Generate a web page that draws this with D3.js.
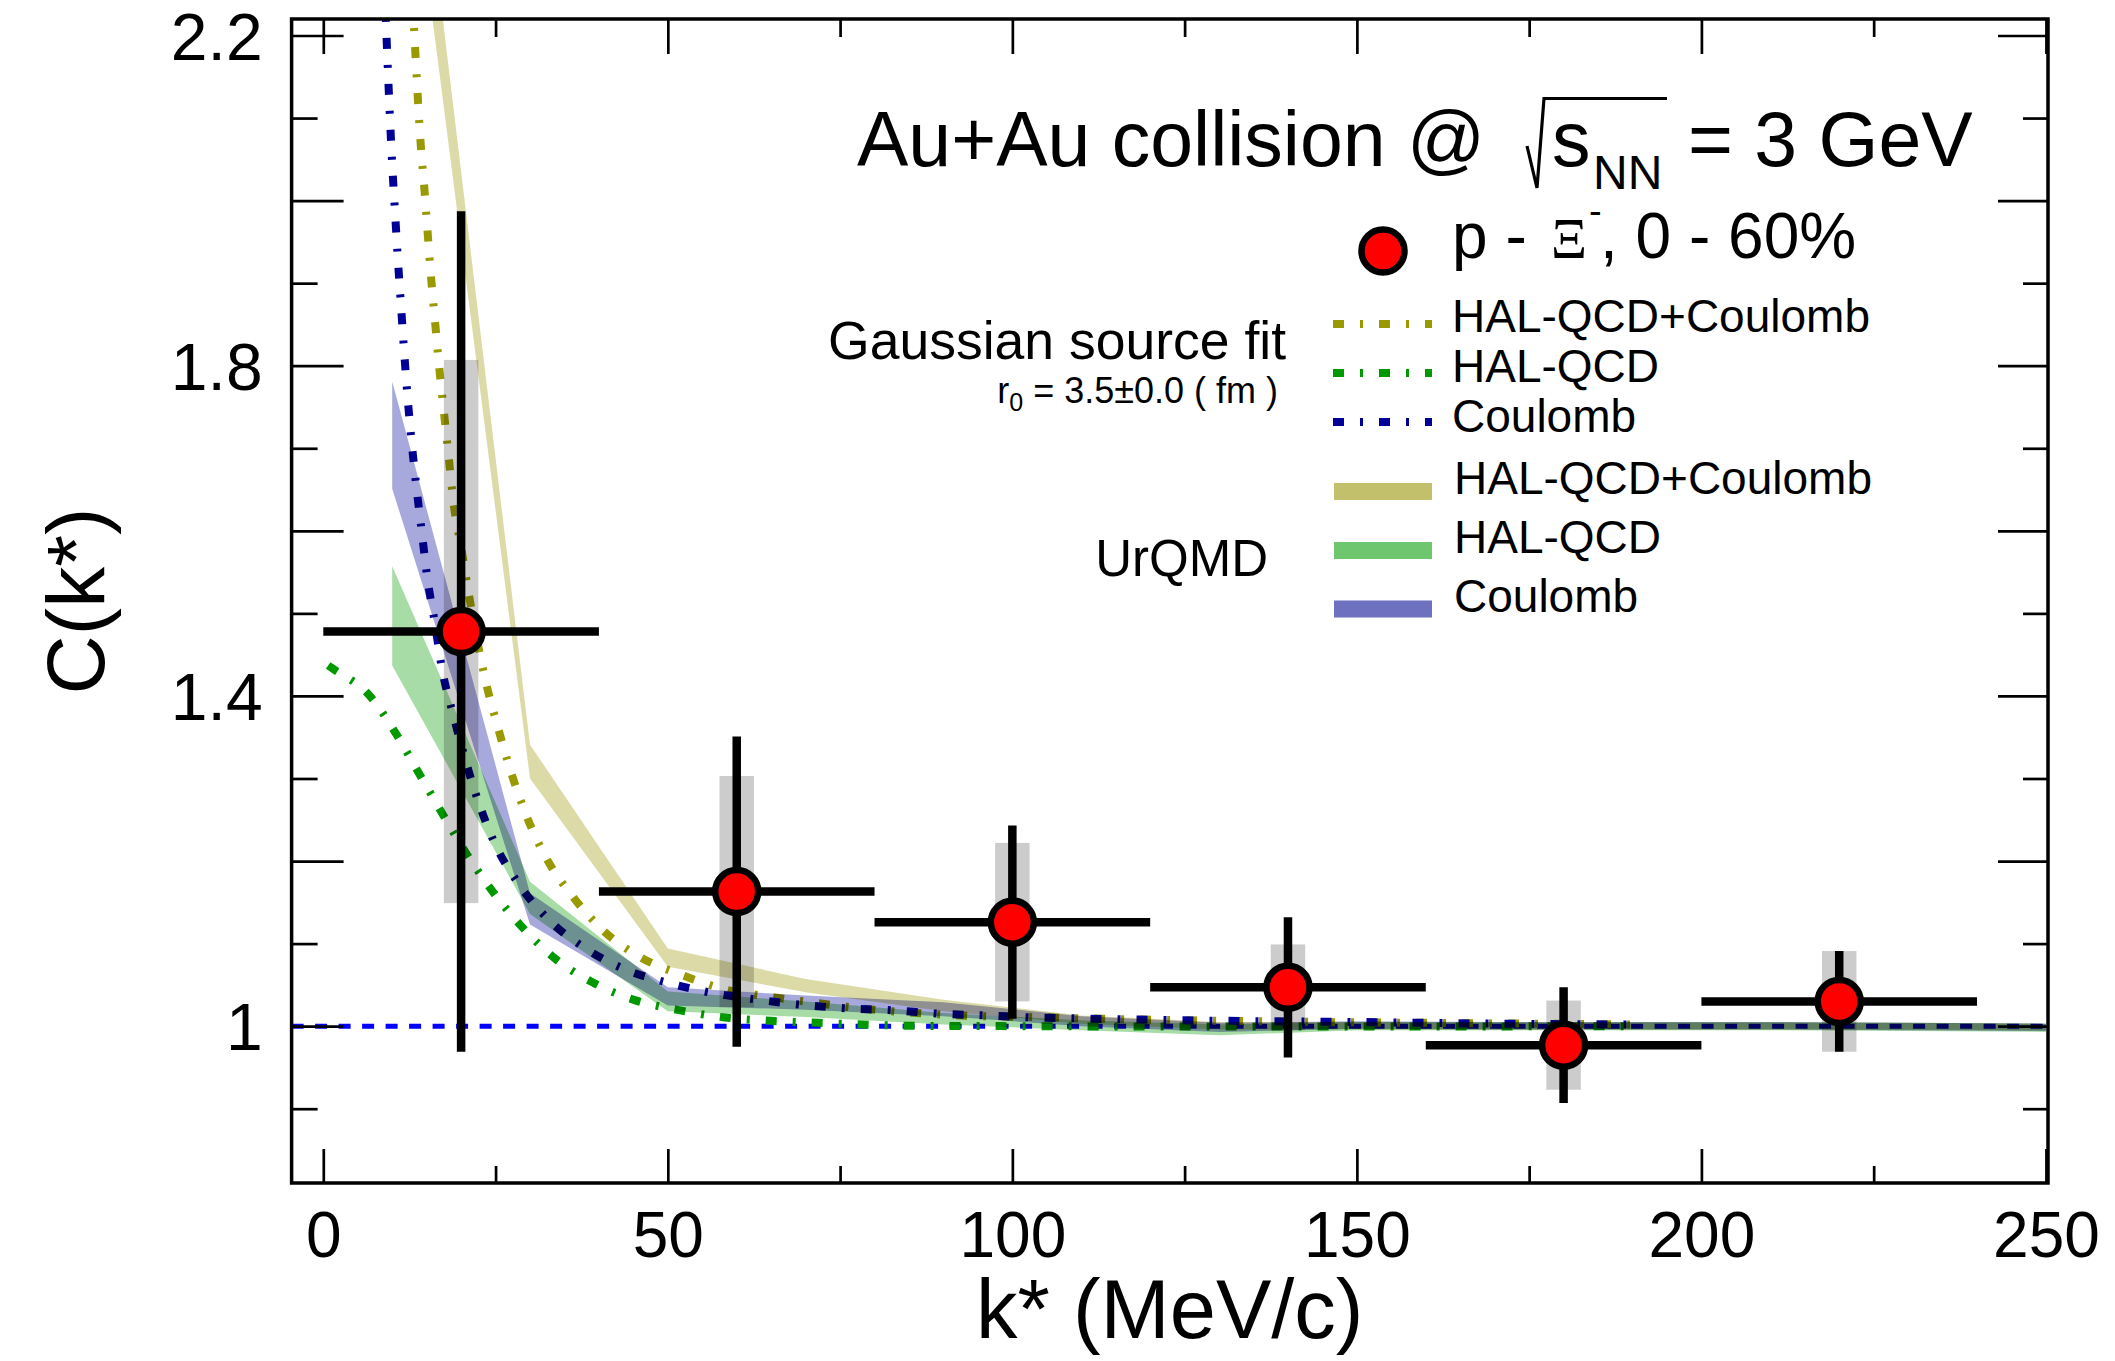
<!DOCTYPE html>
<html>
<head>
<meta charset="utf-8">
<script src="https://cdn.jsdelivr.net/npm/d3@7"></script>
<style>
  html, body { margin: 0; padding: 0; background: #fff; }
  svg { display: block; font-family: 'Liberation Sans', Arial, Helvetica, sans-serif; }
</style>
</head>
<body>
<svg id="chart"></svg>
<script>
// ---- data ----
const kBins = [20, 60, 100, 140, 180, 220];
const kHalfWidth = 20;
const cData = [1.478, 1.163, 1.126, 1.047, 0.977, 1.030];
const statErr = [0.509, 0.188, 0.117, 0.085, 0.070, 0.061];
const sysErr = [0.329, 0.140, 0.096, 0.052, 0.054, 0.061];
const sysHalfWidth = 2.5;

// Gaussian source fit curves (k*, C)
const fitHalCoulK = [11.3, 12.2, 13.1, 14.3, 14.6, 15.1, 15.6, 16.2, 16.8, 17.5, 18.2, 18.9, 20.05, 21.1, 23.7, 25.4, 27.3, 29.5, 32.4, 36.2, 40.6, 45.9, 52.0, 58.3, 65.0, 71.6, 78.1, 91.7, 105, 118.2, 131.6, 144.9, 160, 175, 190];
const fitHalCoulC = [2.52, 2.37, 2.22, 2.05, 2.022, 1.966, 1.911, 1.855, 1.80, 1.744, 1.689, 1.634, 1.578, 1.524, 1.413, 1.36, 1.306, 1.2545, 1.203, 1.157, 1.116, 1.084, 1.062, 1.0445, 1.0355, 1.028, 1.0214, 1.0133, 1.0105, 1.008, 1.0064, 1.005, 1.004, 1.003, 1.002];
const fitHalK = [0.7, 1.2, 6.65, 10.5, 13.9, 17.2, 20.7, 24.4, 28.6, 33.6, 39.2, 45.2, 51.6, 58.3, 65.0, 71.8, 78.3, 85.1, 100, 120, 150, 190];
const fitHalC = [1.437, 1.434, 1.401, 1.355, 1.306, 1.2586, 1.21, 1.165, 1.1224, 1.082, 1.0525, 1.0315, 1.0194, 1.0105, 1.0064, 1.004, 1.002, 1.0004, 1.0, 0.9995, 0.9995, 1.0];
const fitCoulK = [8.2, 8.6, 9.07, 10.0, 10.4, 10.8, 11.25, 11.7, 12.2, 12.8, 13.5, 14.3, 15.1, 16.2, 17.2, 18.8, 22.5, 24.9, 28.3, 32.5, 37.7, 43.8, 50.0, 56.6, 63.1, 69.9, 76.4, 82.9, 89.5, 96.3, 103, 109.8, 123, 136, 150, 170, 190];
const fitCoulC = [2.42, 2.32, 2.22, 2.044, 1.987, 1.932, 1.876, 1.821, 1.765, 1.709, 1.654, 1.598, 1.543, 1.488, 1.434, 1.379, 1.272, 1.221, 1.173, 1.1305, 1.096, 1.0687, 1.0525, 1.040, 1.032, 1.0255, 1.0214, 1.019, 1.015, 1.013, 1.0105, 1.0093, 1.0073, 1.006, 1.005, 1.003, 1.002];

// UrQMD bands (k*, low, high)
const bandK = [10, 30, 50, 70, 90, 110, 130, 150, 170, 190, 210, 230, 250];
const urqmdHalCoulLo = [2.60, 1.300, 1.072, 1.041, 1.018, 1.003, 0.996, 0.996, 0.996, 0.996, 0.996, 0.996, 0.995];
const urqmdHalCoulHi = [2.73, 1.341, 1.094, 1.057, 1.032, 1.013, 1.005, 1.005, 1.004, 1.004, 1.004, 1.004, 1.003];
const urqmdHalLo = [1.437, 1.136, 1.018, 1.011, 1.002, 0.995, 0.989, 0.995, 0.995, 0.995, 0.995, 0.994, 0.993];
const urqmdHalHi = [1.557, 1.175, 1.042, 1.030, 1.016, 1.007, 1.002, 1.005, 1.005, 1.005, 1.005, 1.004, 1.003];
const urqmdCoulLo = [1.651, 1.123, 1.025, 1.020, 1.012, 1.000, 0.993, 0.997, 0.996, 0.996, 0.996, 0.995, 0.994];
const urqmdCoulHi = [1.781, 1.161, 1.047, 1.037, 1.029, 1.012, 1.004, 1.006, 1.005, 1.005, 1.005, 1.004, 1.003];

const xMajorTicks = [0, 50, 100, 150, 200, 250];
const xMinorTicks = [25, 75, 125, 175, 225];
const yMajorTicks = [1.0, 1.2, 1.4, 1.6, 1.8, 2.0, 2.2];
const yMinorTicks = [0.9, 1.1, 1.3, 1.5, 1.7, 1.9, 2.1];
const yLabelTicks = [1.0, 1.4, 1.8, 2.2];

// ---- layout ----
const W = 2115, H = 1361;
const frame = {left: 291.6, right: 2048, top: 19, bottom: 1183};
const font = "'Liberation Sans', Arial, Helvetica, sans-serif";

const svg = d3.select('#chart').attr('width', W).attr('height', H);
svg.append('rect').attr('width', W).attr('height', H).attr('fill', '#fff');

const x = d3.scaleLinear().domain([-4.6, 250.3]).range([frame.left, frame.right]);
const y = d3.scaleLinear().domain([0.81, 2.22]).range([frame.bottom, frame.top]);

svg.append('clipPath').attr('id', 'plotclip')
    .append('rect')
    .attr('x', frame.left).attr('y', frame.top)
    .attr('width', frame.right - frame.left)
    .attr('height', frame.bottom - frame.top);

const plot = svg.append('g').attr('clip-path', 'url(#plotclip)');

// reference line C = 1
plot.append('line')
    .attr('x1', frame.left).attr('x2', frame.right)
    .attr('y1', y(1)).attr('y2', y(1))
    .attr('stroke', '#0000ff')
    .attr('stroke-width', 5)
    .attr('stroke-dasharray', '12,11.5');

// fit curves
const fitLine = d3.line()
    .x(d => x(d[0]))
    .y(d => y(d[1]))
    .curve(d3.curveMonotoneX);

const fits = [
    {k: fitHalCoulK, c: fitHalCoulC, color: '#999900'},
    {k: fitHalK, c: fitHalC, color: '#009900'},
    {k: fitCoulK, c: fitCoulC, color: '#000099'},
];
fits.forEach(f => {
    plot.append('path')
        .attr('d', fitLine(d3.zip(f.k, f.c)))
        .attr('fill', 'none')
        .attr('stroke', f.color)
        .attr('stroke-width', 8)
        .attr('stroke-dasharray', '11,16,3,16');
});

// UrQMD bands
const bandArea = d3.area()
    .x(d => x(d[0]))
    .y0(d => y(d[1]))
    .y1(d => y(d[2]));

const bands = [
    {lo: urqmdHalCoulLo, hi: urqmdHalCoulHi, fill: '#dcdba8'},
    {lo: urqmdHalLo, hi: urqmdHalHi, fill: '#a7dca7'},
    {lo: urqmdCoulLo, hi: urqmdCoulHi, fill: '#a7a8dc'},
];
bands.forEach(b => {
    plot.append('path')
        .attr('d', bandArea(d3.zip(bandK, b.lo, b.hi)))
        .attr('fill', b.fill)
        .style('mix-blend-mode', 'multiply');
});

// data: systematic boxes
const pts = kBins.map((k, i) => ({k: k, c: cData[i], stat: statErr[i], sys: sysErr[i]}));

plot.selectAll('.sys').data(pts).enter()
    .append('rect')
    .attr('class', 'sys')
    .attr('x', d => x(d.k - sysHalfWidth))
    .attr('width', d => x(d.k + sysHalfWidth) - x(d.k - sysHalfWidth))
    .attr('y', d => y(d.c + d.sys))
    .attr('height', d => y(d.c - d.sys) - y(d.c + d.sys))
    .attr('fill', '#cccccc')
    .style('mix-blend-mode', 'multiply');

// statistical error bars
plot.selectAll('.ex').data(pts).enter()
    .append('line')
    .attr('x1', d => x(d.k - kHalfWidth)).attr('x2', d => x(d.k + kHalfWidth))
    .attr('y1', d => y(d.c)).attr('y2', d => y(d.c))
    .attr('stroke', '#000').attr('stroke-width', 8.5);

plot.selectAll('.ey').data(pts).enter()
    .append('line')
    .attr('x1', d => x(d.k)).attr('x2', d => x(d.k))
    .attr('y1', d => y(d.c - d.stat)).attr('y2', d => y(d.c + d.stat))
    .attr('stroke', '#000').attr('stroke-width', 8.5);

plot.selectAll('.pt').data(pts).enter()
    .append('circle')
    .attr('cx', d => x(d.k)).attr('cy', d => y(d.c))
    .attr('r', 21.5)
    .attr('fill', '#ff0000')
    .attr('stroke', '#000').attr('stroke-width', 6.5);

// ---- axes ----
function styleAxis(g) {
    g.select('.domain').remove();
    g.selectAll('.tick line').attr('stroke', '#000').attr('stroke-width', 2.7);
    g.selectAll('.tick text').attr('fill', '#000').attr('font-family', font);
}

svg.append('g')
    .attr('transform', 'translate(0,' + frame.bottom + ')')
    .call(d3.axisBottom(x).tickValues(xMajorTicks).tickSizeInner(-34).tickSizeOuter(0).tickPadding(29).tickFormat(d3.format('d')))
    .call(styleAxis)
    .selectAll('.tick text').attr('font-size', 64);

svg.append('g')
    .attr('transform', 'translate(0,' + frame.bottom + ')')
    .call(d3.axisBottom(x).tickValues(xMinorTicks).tickSizeInner(-17).tickSizeOuter(0).tickFormat(''))
    .call(styleAxis);

svg.append('g')
    .attr('transform', 'translate(0,' + frame.top + ')')
    .call(d3.axisTop(x).tickValues(xMajorTicks).tickSizeInner(-35).tickSizeOuter(0).tickFormat(''))
    .call(styleAxis);

svg.append('g')
    .attr('transform', 'translate(0,' + frame.top + ')')
    .call(d3.axisTop(x).tickValues(xMinorTicks).tickSizeInner(-18).tickSizeOuter(0).tickFormat(''))
    .call(styleAxis);

const yFmt = d => yLabelTicks.some(v => Math.abs(v - d) < 1e-9) ? String(+d.toFixed(1)) : '';

svg.append('g')
    .attr('transform', 'translate(' + frame.left + ',0)')
    .call(d3.axisLeft(y).tickValues(yMajorTicks).tickSizeInner(-52).tickSizeOuter(0).tickPadding(29).tickFormat(yFmt))
    .call(styleAxis)
    .selectAll('.tick text').attr('font-size', 66).attr('dy', '0.36em');

svg.append('g')
    .attr('transform', 'translate(' + frame.left + ',0)')
    .call(d3.axisLeft(y).tickValues(yMinorTicks).tickSizeInner(-26).tickSizeOuter(0).tickFormat(''))
    .call(styleAxis);

svg.append('g')
    .attr('transform', 'translate(' + frame.right + ',0)')
    .call(d3.axisRight(y).tickValues(yMajorTicks).tickSizeInner(-50).tickSizeOuter(0).tickFormat(''))
    .call(styleAxis);

svg.append('g')
    .attr('transform', 'translate(' + frame.right + ',0)')
    .call(d3.axisRight(y).tickValues(yMinorTicks).tickSizeInner(-25).tickSizeOuter(0).tickFormat(''))
    .call(styleAxis);

svg.append('rect')
    .attr('x', frame.left).attr('y', frame.top)
    .attr('width', frame.right - frame.left)
    .attr('height', frame.bottom - frame.top)
    .attr('fill', 'none')
    .attr('stroke', '#000')
    .attr('stroke-width', 3.5);

// axis titles
svg.append('text')
    .attr('x', (frame.left + frame.right) / 2).attr('y', 1338)
    .attr('text-anchor', 'middle')
    .attr('font-size', 83)
    .text('k* (MeV/c)');

svg.append('text')
    .attr('transform', 'translate(104,' + ((frame.top + frame.bottom) / 2) + ') rotate(-90)')
    .attr('text-anchor', 'middle')
    .attr('font-size', 82)
    .text('C(k*)');

// ---- title ----
svg.append('text').attr('x', 857).attr('y', 165.7).attr('font-size', 77).text('Au+Au collision @');
svg.append('path')
    .attr('d', 'M1527,146 L1537,188 L1544,98.5 L1667,98.5')
    .attr('fill', 'none').attr('stroke', '#000').attr('stroke-width', 3.2);
const sNN = svg.append('text').attr('x', 1552).attr('y', 165.7).attr('font-size', 77);
sNN.append('tspan').text('s');
sNN.append('tspan').attr('x', 1593).attr('dy', 22.8).attr('font-size', 48).text('NN');
svg.append('text').attr('x', 1688).attr('y', 165.7).attr('font-size', 77).text('= 3 GeV');

// ---- legends ----
svg.append('circle')
    .attr('cx', 1383).attr('cy', 251)
    .attr('r', 21.5)
    .attr('fill', '#ff0000')
    .attr('stroke', '#000').attr('stroke-width', 6.5);

const dataLabel = svg.append('text').attr('y', 258).attr('font-size', 64);
dataLabel.append('tspan').attr('x', 1452).text('p -');
dataLabel.append('tspan').attr('x', 1551).attr('font-family', "'Liberation Serif', 'DejaVu Serif', serif").attr('font-size', 56).text('Ξ');
dataLabel.append('tspan').attr('x', 1589).attr('dy', -34).attr('font-size', 38).text('-');
dataLabel.append('tspan').attr('x', 1600).attr('dy', 34).text(', 0 - 60%');

svg.append('text')
    .attr('x', 1286).attr('y', 358.6)
    .attr('text-anchor', 'end')
    .attr('font-size', 53.5)
    .text('Gaussian source fit');

const r0 = svg.append('text')
    .attr('x', 1278).attr('y', 403)
    .attr('text-anchor', 'end')
    .attr('font-size', 36);
r0.append('tspan').text('r');
r0.append('tspan').attr('font-size', 25).attr('dy', 8).text('0');
r0.append('tspan').attr('dy', -8).text(' = 3.5±0.0 ( fm )');

svg.append('text')
    .attr('x', 1268).attr('y', 576)
    .attr('text-anchor', 'end')
    .attr('font-size', 51)
    .text('UrQMD');

const fitLegend = [
    {label: 'HAL-QCD+Coulomb', color: '#999900', ly: 324, ty: 332},
    {label: 'HAL-QCD', color: '#009900', ly: 373, ty: 382},
    {label: 'Coulomb', color: '#000099', ly: 422, ty: 432},
];
fitLegend.forEach(e => {
    svg.append('line')
        .attr('x1', 1333).attr('x2', 1432)
        .attr('y1', e.ly).attr('y2', e.ly)
        .attr('stroke', e.color).attr('stroke-width', 8)
        .attr('stroke-dasharray', '11,16,3,16');
    svg.append('text').attr('x', 1452).attr('y', e.ty).attr('font-size', 46).text(e.label);
});

const bandLegend = [
    {label: 'HAL-QCD+Coulomb', color: '#c3c06c', by: 491.5, ty: 494},
    {label: 'HAL-QCD', color: '#6ec66e', by: 550.5, ty: 553},
    {label: 'Coulomb', color: '#6e70c0', by: 609, ty: 612},
];
bandLegend.forEach(e => {
    svg.append('rect')
        .attr('x', 1334).attr('y', e.by - 8.5)
        .attr('width', 98).attr('height', 17)
        .attr('fill', e.color);
    svg.append('text').attr('x', 1454).attr('y', e.ty).attr('font-size', 46).text(e.label);
});
</script>
</body>
</html>
